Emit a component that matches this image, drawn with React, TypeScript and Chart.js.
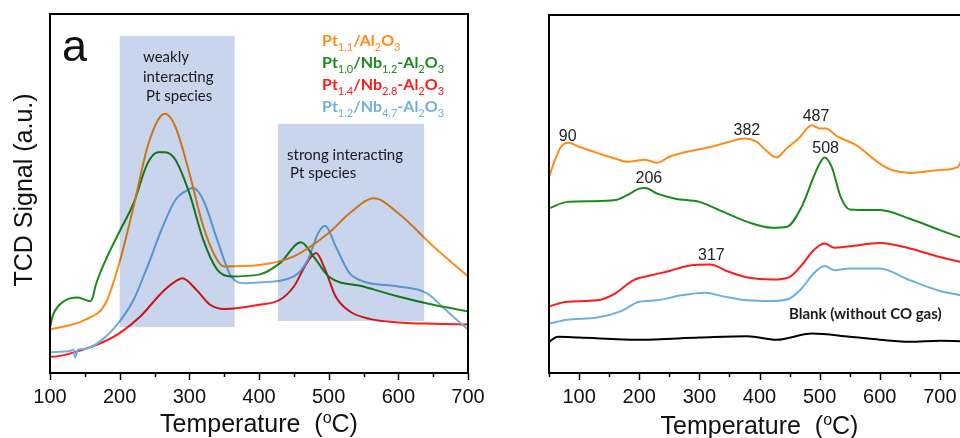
import React, { useEffect, useRef } from 'react';
import { Chart, registerables } from 'chart.js';
Chart.register(...registerables);

// ---------- Panel a data ----------
const aTicks = [100, 200, 300, 400, 500, 600, 700];
const aMinor = [150, 250, 350, 450, 550, 650];

const aOrangeT = [100, 150, 180, 200, 220, 240, 255, 265, 280, 300, 320, 340, 350, 400, 450, 500, 530, 565, 600, 650, 700];
const aOrangeS = [12.1, 14.8, 19.5, 31, 46.4, 63, 70.5, 72.2, 68.6, 55.7, 40.8, 31.5, 29.7, 30.1, 32.5, 39, 44.5, 48.7, 44.5, 35.3, 26.9];

const aGreenT = [100, 102, 105, 120, 140, 158, 162, 165, 180, 200, 220, 240, 255, 265, 280, 300, 320, 340, 360, 400, 430, 460, 480, 500, 550, 600, 650, 700];
const aGreenS = [12.5, 14.5, 16.5, 20, 21, 20, 21.5, 24, 31.5, 39.5, 47.3, 58.4, 61.5, 61.5, 59.4, 50.1, 37.1, 28.8, 26.9, 27.4, 30.6, 36.4, 32, 26.9, 24.1, 21.3, 19, 17.2];

const aRedT = [100, 103, 150, 175, 200, 230, 260, 280, 290, 310, 330, 350, 400, 430, 450, 470, 482, 495, 510, 530, 560, 600, 650, 700];
const aRedS = [4.8, 4.5, 6.7, 8.5, 11.1, 15.8, 22.3, 25.5, 26.4, 23.2, 19, 17.8, 19, 20.4, 24.1, 31.1, 33.4, 28.8, 21.3, 17.2, 15, 14.1, 13.7, 13.5];

const aBlueT = [100, 130, 134, 136, 140, 150, 175, 200, 220, 240, 260, 280, 300, 305, 320, 340, 360, 380, 400, 450, 470, 485, 495, 510, 530, 550, 600, 640, 670, 700];
const aBlueS = [5.8, 6.2, 6.5, 4.3, 6.5, 6.7, 9.3, 14.4, 20.4, 29.7, 39.9, 48.2, 51.2, 51.5, 48.2, 37.1, 26.9, 25, 25.2, 26.9, 31.5, 39, 41, 35.3, 27.8, 25.5, 24.1, 22.3, 17.2, 12.1];

// shaded regions [T0, T1, S0, S1]
const aRegionWeak = [200, 365, 12.8, 93.9];
const aRegionStrong = [427, 637, 14.5, 69.4];
const aRegionTexts = ['weakly', 'interacting', 'Pt species', 'strong interacting', 'Pt species'];
const aRegionTextT = [233.5, 233.5, 237.8, 440.2, 444.5];
const aRegionTextS = [86.6, 81.1, 75.8, 59.3, 54.3];

// ---------- Panel b data ----------
const bTicks = [100, 200, 300, 400, 500, 600, 700];
const bMinor = [50, 150, 250, 350, 450, 550, 650];

const bOrangeT = [50, 60, 70, 82, 100, 130, 160, 180, 210, 230, 250, 280, 320, 350, 375, 395, 410, 428, 445, 465, 487, 500, 510, 530, 560, 600, 620, 650, 700, 730, 738, 750];
const bOrangeS = [54.8, 59.5, 63.2, 64.3, 63.2, 61.5, 59.9, 59, 59.6, 58.7, 60.4, 61.8, 63.2, 64.6, 65.5, 64.6, 62.3, 60.2, 62.7, 65.5, 69.2, 68.3, 68.3, 66, 63.7, 58.5, 56.7, 55.9, 56.7, 57.6, 60, 60.5];

const bGreenT = [50, 80, 120, 160, 180, 200, 210, 230, 260, 300, 340, 380, 420, 445, 470, 490, 500, 508, 520, 535, 550, 600, 650, 700, 735, 750];
const bGreenS = [46, 47.8, 48, 48.3, 49.7, 51.5, 51.7, 50.1, 48.7, 47.8, 45, 42.2, 40.6, 40.8, 46.4, 54.8, 58.5, 60.2, 57.6, 49.2, 45.7, 45.5, 43.1, 39.9, 37.8, 37];

const bRedT = [50, 80, 130, 160, 190, 220, 250, 280, 317, 350, 380, 420, 450, 470, 490, 508, 525, 550, 600, 650, 700, 735, 750];
const bRedS = [18.6, 19.9, 20.3, 22.2, 25.9, 27.3, 28.5, 29.9, 30.3, 28.2, 26.7, 26.1, 26.8, 30.1, 34.3, 36.2, 35, 35.4, 36.3, 34.8, 32.4, 31, 30.5];

const bBlueT = [50, 80, 130, 170, 200, 230, 270, 310, 340, 380, 420, 450, 470, 490, 508, 525, 550, 600, 650, 700, 735, 750];
const bBlueS = [13.8, 14.9, 15.5, 17.3, 19.9, 20.3, 21.7, 22.4, 21.4, 20.3, 20.1, 20.8, 23.6, 27.8, 29.9, 28.7, 29.2, 29.2, 25.9, 22.9, 21.7, 21];

const bBlankT = [50, 65, 100, 200, 300, 380, 428, 487, 550, 600, 650, 700, 750];
const bBlankS = [8.7, 10.1, 9.9, 9.3, 9.9, 10.3, 9.3, 11, 10.1, 9.3, 8.7, 9, 8.8];

const bPeakLabels = ['90', '382', '487', '508', '206', '317'];
const bPeakLabelT = [81, 379, 494, 510, 216, 320];
const bPeakLabelS = [64.8, 66.5, 70.4, 61.4, 53, 31.5];
const bBlankLabel = 'Blank (without CO gas)';
const bBlankLabelT = 449;
const bBlankLabelS = 15.0;

// ---------- shared ----------
const seriesNames = ['Pt_{1.1}/Al_{2}O_{3}', 'Pt_{1.0}/Nb_{1.2}-Al_{2}O_{3}', 'Pt_{1.4}/Nb_{2.8}-Al_{2}O_{3}', 'Pt_{1.2}/Nb_{4.7}-Al_{2}O_{3}'];
const seriesColors = ['#FF8C1A', '#1A8A1A', '#FF1A1A', '#6EB0E0'];
const blankColor = '#000000';
const regionColor = '#C8D5EC';

const pairs = (t: number[], s: number[]) => t.map((v, i) => ({ x: v, y: s[i] }));
const plain = (s: string) => s.replace(/_\{([^}]*)\}/g, '$1');

function drawRich(ctx: CanvasRenderingContext2D, text: string, x: number, y: number, size: number, color: string) {
  const parts = text.split(/(_\{[^}]*\})/).filter(Boolean);
  let cx = x;
  ctx.fillStyle = color;
  ctx.textAlign = 'left';
  ctx.textBaseline = 'alphabetic';
  for (const p of parts) {
    const sub = p.startsWith('_{');
    const t = sub ? p.slice(2, -1) : p;
    const fs = sub ? Math.round(size * 0.66) : size;
    ctx.font = `${sub ? '' : 'bold '}${fs}px Lato`;
    ctx.fillText(t, cx, y + (sub ? size * 0.3 : 0));
    cx += ctx.measureText(t).width;
  }
}

function lineDs(label: string, t: number[], s: number[], color: string) {
  return {
    label,
    data: pairs(t, s),
    borderColor: color,
    backgroundColor: color,
    borderWidth: 2,
    pointRadius: 0,
    cubicInterpolationMode: 'monotone' as const,
    fill: false,
  };
}

function framePlugin(opts: any) {
  return {
    id: 'frame' + opts.key,
    afterDatasetsDraw(chart: any) {
      const { ctx, chartArea: ca, scales } = chart;
      const xs = scales.x, ys = scales.y;
      // shaded regions (multiply, like overlaid translucent boxes)
      if (opts.regions) {
        ctx.save();
        ctx.globalCompositeOperation = 'multiply';
        ctx.fillStyle = regionColor;
        for (const r of opts.regions) {
          const x0 = xs.getPixelForValue(r[0]);
          const x1 = xs.getPixelForValue(r[1]);
          const y0 = ys.getPixelForValue(r[2]);
          const y1 = ys.getPixelForValue(r[3]);
          ctx.fillRect(x0, y1, x1 - x0, y0 - y1);
        }
        ctx.restore();
      }
    },
    afterDraw(chart: any) {
      const { ctx, chartArea: ca, scales } = chart;
      const xs = scales.x, ys = scales.y;
      ctx.save();
      // frame
      ctx.strokeStyle = '#000';
      ctx.lineWidth = 2;
      ctx.strokeRect(ca.left, ca.top, ca.right - ca.left, ca.bottom - ca.top);
      // ticks
      ctx.lineWidth = 1.5;
      for (const v of opts.ticks) {
        const x = Math.round(xs.getPixelForValue(v)) + 0.5;
        ctx.beginPath(); ctx.moveTo(x, ca.bottom); ctx.lineTo(x, ca.bottom + 7); ctx.stroke();
      }
      for (const v of opts.minor) {
        const x = Math.round(xs.getPixelForValue(v)) + 0.5;
        ctx.beginPath(); ctx.moveTo(x, ca.bottom); ctx.lineTo(x, ca.bottom + 4); ctx.stroke();
      }
      // x title with superscript
      ctx.fillStyle = '#111';
      ctx.textBaseline = 'alphabetic';
      ctx.textAlign = 'left';
      const big = '25px "Liberation Sans", Arial';
      const small = '16px "Liberation Sans", Arial';
      ctx.font = big;
      const p1 = 'Temperature  (';
      const w1 = ctx.measureText(p1).width;
      ctx.font = small;
      const w2 = ctx.measureText('o').width;
      ctx.font = big;
      const w3 = ctx.measureText('C)').width;
      const cx = (ca.left + ca.right) / 2;
      let x = cx - (w1 + w2 + w3) / 2;
      const by = opts.titleY;
      ctx.fillText(p1, x, by); x += w1;
      ctx.font = small; ctx.fillText('o', x, by - 9); x += w2;
      ctx.font = big; ctx.fillText('C)', x, by);
      // y title
      if (opts.yTitle) {
        ctx.save();
        ctx.translate(25, 190);
        ctx.rotate(-Math.PI / 2);
        ctx.textAlign = 'center';
        ctx.textBaseline = 'middle';
        ctx.font = big;
        ctx.fillText(opts.yTitle, 0, 0);
        ctx.restore();
      }
      // panel letter
      ctx.font = '45px "Liberation Sans", Arial';
      ctx.fillStyle = '#111';
      ctx.textAlign = 'left';
      ctx.fillText(opts.letter[0], opts.letter[1], opts.letter[2]);
      // legend
      seriesNames.forEach((n, i) => {
        drawRich(ctx, n, opts.legendX, opts.legendY[i], 16, seriesColors[i]);
      });
      // region texts
      if (opts.texts) {
        ctx.font = '15px Lato';
        ctx.fillStyle = '#1a1a1a';
        ctx.textAlign = 'left';
        opts.texts.forEach((t: string, i: number) => {
          ctx.fillText(t, xs.getPixelForValue(opts.textT[i]), ys.getPixelForValue(opts.textS[i]));
        });
      }
      // peak labels
      if (opts.peaks) {
        ctx.font = '16px "Liberation Sans", Arial';
        ctx.fillStyle = '#222';
        ctx.textAlign = 'center';
        opts.peaks.forEach((t: string, i: number) => {
          ctx.fillText(t, xs.getPixelForValue(opts.peakT[i]), ys.getPixelForValue(opts.peakS[i]));
        });
      }
      if (opts.blank) {
        ctx.font = 'bold 15px Lato';
        ctx.fillStyle = '#1a1a1a';
        ctx.textAlign = 'left';
        ctx.fillText(opts.blank[0], xs.getPixelForValue(opts.blank[1]), ys.getPixelForValue(opts.blank[2]));
      }
      ctx.restore();
    },
  };
}

function makeConfig(datasets: any[], xmin: number, xmax: number, ticks: number[], padding: any, plugin: any) {
  return {
    type: 'line' as const,
    data: { datasets },
    options: {
      animation: false,
      responsive: false,
      maintainAspectRatio: false,
      layout: { padding },
      plugins: { legend: { display: false }, tooltip: { enabled: false } },
      scales: {
        x: {
          type: 'linear',
          min: xmin,
          max: xmax,
          afterFit: (s: any) => { s.height = 65; },
          afterBuildTicks: (s: any) => { s.ticks = ticks.map((v) => ({ value: v })); },
          grid: { display: false, drawTicks: false },
          border: { display: false },
          ticks: {
            font: { family: '"Liberation Sans", Arial', size: 20 },
            color: '#111',
            padding: 12,
            autoSkip: false,
            maxRotation: 0,
            callback: (v: any) => String(v),
          },
        },
        y: { display: false, min: 0, max: 100 },
      },
    },
    plugins: [plugin],
  };
}

export default function App() {
  const refA = useRef<HTMLCanvasElement>(null);
  const refB = useRef<HTMLCanvasElement>(null);

  useEffect(() => {
    const dsA = [
      lineDs(plain(seriesNames[0]), aOrangeT, aOrangeS, seriesColors[0]),
      lineDs(plain(seriesNames[1]), aGreenT, aGreenS, seriesColors[1]),
      lineDs(plain(seriesNames[3]), aBlueT, aBlueS, seriesColors[3]),
      lineDs(plain(seriesNames[2]), aRedT, aRedS, seriesColors[2]),
    ];
    const dsB = [
      lineDs(plain(seriesNames[0]), bOrangeT, bOrangeS, seriesColors[0]),
      lineDs(plain(seriesNames[1]), bGreenT, bGreenS, seriesColors[1]),
      lineDs(plain(seriesNames[2]), bRedT, bRedS, seriesColors[2]),
      lineDs(plain(seriesNames[3]), bBlueT, bBlueS, seriesColors[3]),
      lineDs('Blank', bBlankT, bBlankS, blankColor),
    ];
    const pa = framePlugin({
      key: 'a', ticks: aTicks, minor: aMinor, titleY: 432, yTitle: 'TCD Signal (a.u.)',
      letter: ['a', 62, 61], legendX: 322, legendY: [46, 68, 90, 112],
      regions: [aRegionWeak, aRegionStrong], texts: aRegionTexts, textT: aRegionTextT, textS: aRegionTextS,
    });
    const pb = framePlugin({
      key: 'b', ticks: bTicks, minor: bMinor, titleY: 434,
      letter: ['b', 933, 63], legendX: 563, legendY: [50, 71, 92, 113],
      peaks: bPeakLabels, peakT: bPeakLabelT, peakS: bPeakLabelS,
      blank: [bBlankLabel, bBlankLabelT, bBlankLabelS],
    });
    const a = new Chart(refA.current!, makeConfig(dsA, 100, 700, aTicks, { left: 50, right: 32, top: 14, bottom: 0 }, pa) as any);
    const b = new Chart(refB.current!, makeConfig(dsB, 50, 750, bTicks, { left: 69, right: 30, top: 15, bottom: 0 }, pb) as any);
    return () => { a.destroy(); b.destroy(); };
  }, []);

  return (
    <div style={{ position: 'fixed', left: 0, top: 0, width: 960, height: 438, overflow: 'hidden', background: '#fff' }}>
      <canvas ref={refA} width={500} height={438} style={{ position: 'absolute', left: 0, top: 0, width: 500, height: 438 }} />
      <canvas ref={refB} width={520} height={438} style={{ position: 'absolute', left: 480, top: 0, width: 520, height: 438 }} />
    </div>
  );
}
